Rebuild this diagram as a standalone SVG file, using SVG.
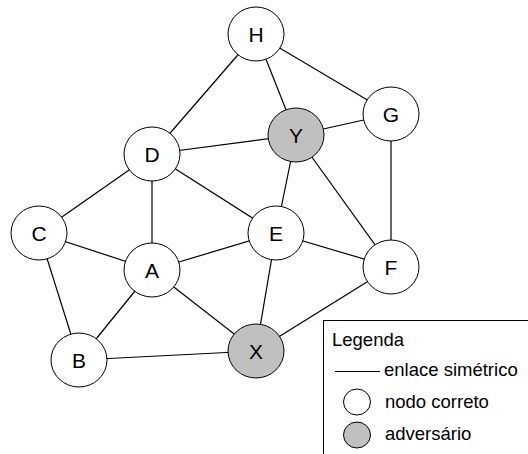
<svg xmlns="http://www.w3.org/2000/svg" width="528" height="454" viewBox="0 0 528 454">
<style>
.n{fill:#fff;stroke:#000;stroke-width:1}
.adv{fill:#c0c0c0;stroke:#000;stroke-width:1}
.e line{stroke:#000;stroke-width:1.2}
.t{font-family:"Liberation Sans",Arial,sans-serif;font-size:21px;text-anchor:middle;fill:#000}
.l{font-family:"Liberation Sans",Arial,sans-serif;font-size:18.5px;fill:#000}
</style>
<rect width="528" height="454" fill="#fff"/>
<g id="edges" class="e">
<line x1="256" y1="34" x2="152" y2="154"/>
<line x1="256" y1="34" x2="296" y2="135"/>
<line x1="256" y1="34" x2="391" y2="114"/>
<line x1="391" y1="114" x2="296" y2="135"/>
<line x1="391" y1="114" x2="391" y2="267"/>
<line x1="296" y1="135" x2="152" y2="154"/>
<line x1="296" y1="135" x2="276" y2="233"/>
<line x1="296" y1="135" x2="391" y2="267"/>
<line x1="152" y1="154" x2="39" y2="233"/>
<line x1="152" y1="154" x2="152" y2="270"/>
<line x1="152" y1="154" x2="276" y2="233"/>
<line x1="39" y1="233" x2="152" y2="270"/>
<line x1="39" y1="233" x2="79" y2="360"/>
<line x1="152" y1="270" x2="276" y2="233"/>
<line x1="152" y1="270" x2="79" y2="360"/>
<line x1="152" y1="270" x2="256" y2="351"/>
<line x1="276" y1="233" x2="391" y2="267"/>
<line x1="276" y1="233" x2="256" y2="351"/>
<line x1="391" y1="267" x2="256" y2="351"/>
<line x1="79" y1="360" x2="256" y2="351"/>
</g>
<g id="H"><ellipse class="n" cx="256" cy="34" rx="28" ry="27"/><text class="t" x="256" y="41.5">H</text></g>
<g id="G"><ellipse class="n" cx="391" cy="114" rx="28" ry="27"/><text class="t" x="391" y="121.5">G</text></g>
<g id="Y"><ellipse class="adv" cx="296" cy="135" rx="28" ry="27"/><text class="t" x="296" y="142.5">Y</text></g>
<g id="D"><ellipse class="n" cx="152" cy="154" rx="28" ry="27"/><text class="t" x="152" y="161.5">D</text></g>
<g id="C"><ellipse class="n" cx="39" cy="233" rx="28" ry="27"/><text class="t" x="39" y="240.5">C</text></g>
<g id="E"><ellipse class="n" cx="276" cy="233" rx="28" ry="27"/><text class="t" x="276" y="240.5">E</text></g>
<g id="A"><ellipse class="n" cx="152" cy="270" rx="28" ry="27"/><text class="t" x="152" y="277.5">A</text></g>
<g id="F"><ellipse class="n" cx="391" cy="267" rx="28" ry="27"/><text class="t" x="391" y="274.5">F</text></g>
<g id="X"><ellipse class="adv" cx="256" cy="351" rx="28" ry="27"/><text class="t" x="256" y="358.5">X</text></g>
<g id="B"><ellipse class="n" cx="79" cy="360" rx="28" ry="27"/><text class="t" x="79" y="367.5">B</text></g>
<g id="legend">
<rect x="323.5" y="320.5" width="220" height="150" fill="#fff" stroke="#000" stroke-width="1"/>
<text class="l" x="332" y="346">Legenda</text>
<line x1="335" y1="371.5" x2="380" y2="371.5" stroke="#000" stroke-width="1.2"/>
<text class="l" x="384" y="376">enlace simétrico</text>
<ellipse class="n" cx="357" cy="402" rx="13.5" ry="13"/>
<text class="l" x="385" y="408">nodo correto</text>
<ellipse class="adv" cx="357" cy="435" rx="13.5" ry="13"/>
<text class="l" x="385" y="440">adversário</text>
</g>
</svg>
